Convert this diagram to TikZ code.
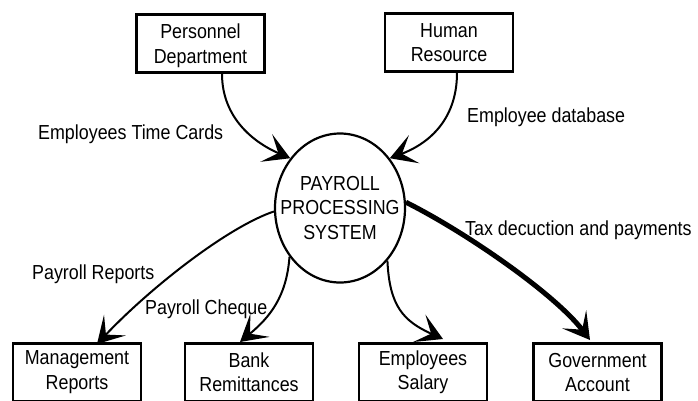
\documentclass[tikz,border=0pt]{standalone}
\usepackage{fontspec}
\setmainfont{Liberation Sans}[FakeStretch=0.88]
\usetikzlibrary{arrows.meta,shapes.geometric}
\newcommand\dfdfont{\fontsize{20.3}{24.5}\selectfont}
\tikzset{
  box/.style={draw,line width=2.7pt,minimum width=128pt,minimum height=58pt,inner sep=0pt,align=center,font=\dfdfont},
  topbox/.style={box,text depth=-2pt},
  procell/.style={draw,ellipse,line width=2.2pt,minimum width=130pt,minimum height=149pt,inner sep=0pt},
  systext/.style={align=center,font=\dfdfont,inner sep=0pt},
  lbl/.style={font=\dfdfont,inner sep=0pt,anchor=base west},
  flow/.style={line width=2pt,->},
  bigflow/.style={line width=5pt,->}
}
\begin{document}
\begin{tikzpicture}[x=1pt,y=1pt,>={Stealth[length=26pt 0,width=30pt 0,inset=13pt 0]}]
\useasboundingbox (0,0) rectangle (698,-400);
% nodes
\node[topbox] (pers) at (200.5,-43.5) {Personnel\\Department};
\node[topbox] (hr) at (449,-42.5) {Human\\Resource};
\node[procell] (sys) at (340,-208) {};
\node[systext] (systxt) at (sys.center) {PAYROLL\\PROCESSING\\SYSTEM};
\node[box] (mgmt) at (77,-372.35) {Management\\Reports};
\node[box] (bank) at (249,-372.35) {Bank\\Remittances};
\node[box] (sal) at (423,-372.35) {Employees\\Salary};
\node[box] (gov) at (597.5,-372.35) {Government\\Account};
% labels
\node[lbl] (ltime) at (38,-139) {Employees Time Cards};
\node[lbl] (ldb) at (467,-122) {Employee database};
\node[lbl] (ltax) at (465,-235) {Tax decuction and payments};
\node[lbl] (lrep) at (32,-279) {Payroll Reports};
\node[lbl] (lchq) at (145,-314) {Payroll Cheque};
% connectors
\draw[flow] ([xshift=21.5pt]pers.south) .. controls +(0,-45) and +(-35,15) .. (sys.135);
\draw[flow] ([xshift=8pt]hr.south) .. controls +(0,-50) and +(35,13) .. (sys.45);
\draw[flow] (sys.183) .. controls +(-45,-15) and +(55,58) .. ([xshift=20pt,yshift=-2pt]mgmt.north);
\draw[flow] (sys.224) .. controls +(-3,-40) and +(30,25) .. ([xshift=-9pt]bank.north);
\draw[flow] (sys.-48) .. controls +(2,-45) and +(-40,18) .. ([xshift=20pt,yshift=3pt]sal.north);
\draw[bigflow] (sys.5) .. controls +(60,-30) and +(-35,46) .. ([xshift=-7.5pt,yshift=2pt]gov.north);
\end{tikzpicture}
\end{document}
